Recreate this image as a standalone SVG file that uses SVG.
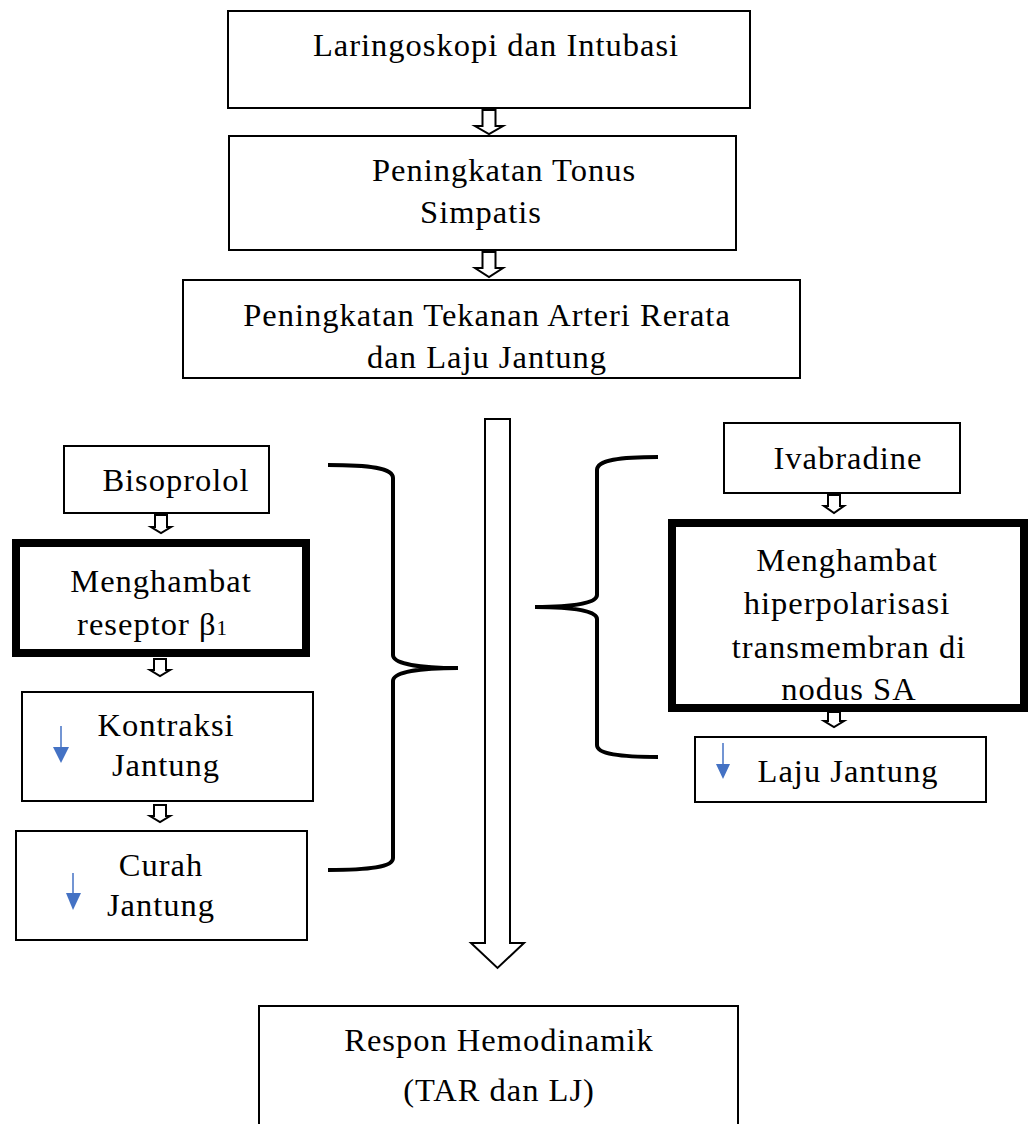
<svg xmlns="http://www.w3.org/2000/svg" width="1034" height="1124" viewBox="0 0 1034 1124">
<style>
.box{fill:#fff;stroke:#000;stroke-width:2}
.thick{fill:#fff;stroke:#000;stroke-width:8}
.t{font-family:"Liberation Serif","Times New Roman",serif;font-size:32.5px;letter-spacing:1px;fill:#000;text-anchor:middle}
.arr{fill:#fff;stroke:#000;stroke-width:2;stroke-linejoin:miter}
.brace{fill:none;stroke:#000;stroke-width:4}
.blue{stroke:#4472C4;stroke-width:1.5;fill:none}
.bluehead{fill:#4472C4}
</style>
<rect width="1034" height="1124" fill="#fff"/>
<g id="connectors">
<path class="arr" d="M482.5,110 L495.5,110 L495.5,126 L503,126 L489,134 L475,126 L482.5,126 Z"/>
<path class="arr" d="M482.5,252 L495.5,252 L495.5,268 L503,268 L489,277 L475,268 L482.5,268 Z"/>
<path class="arr" d="M155,515 L167,515 L167,527 L171,527 L161,533 L151,527 L155,527 Z"/>
<path class="arr" d="M154,659 L166,659 L166,670 L170,670 L160,676 L150,670 L154,670 Z"/>
<path class="arr" d="M154,805 L166,805 L166,816 L170,816 L160,822 L150,816 L154,816 Z"/>
<path class="arr" d="M828,495 L840,495 L840,506 L844,506 L834,513 L824,506 L828,506 Z"/>
<path class="arr" d="M828,712 L840,712 L840,721 L844,721 L834,727 L824,721 L828,721 Z"/>
<path class="arr" d="M485,419 L510,419 L510,943 L524,943 L497.5,968 L471,943 L485,943 Z"/>
<path class="brace" d="M328,465 C370,465 393,468 393,478 L393,655 C393,664 420,668 458,668 C420,668 393,672 393,681 L393,858 C393,867 370,870 328,870"/>
<path class="brace" d="M658,457 C620,457 597,460 597,470 L597,595 C597,603 575,607 535,607 C575,607 597,611 597,619 L597,745 C597,754 620,757 658,757"/>
</g>
<g id="n1"><rect class="box" x="228" y="11" width="522" height="97"/><text class="t" x="496" y="56">Laringoskopi dan Intubasi</text></g>
<g id="n2"><rect class="box" x="229" y="136" width="507" height="114"/><text class="t" x="504" y="181">Peningkatan Tonus</text><text class="t" x="481" y="223">Simpatis</text></g>
<g id="n3"><rect class="box" x="183" y="280" width="617" height="98"/><text class="t" x="487" y="326">Peningkatan Tekanan Arteri Rerata</text><text class="t" x="487" y="368">dan Laju Jantung</text></g>
<g id="bisoprolol"><rect class="box" x="64" y="446" width="205" height="67"/><text class="t" x="176" y="491">Bisoprolol</text></g>
<g id="menghambat-b1"><rect class="thick" x="16" y="543" width="290" height="110"/><text class="t" x="161" y="592">Menghambat</text><text class="t" x="152" y="635">reseptor β<tspan font-size="21" letter-spacing="0">1</tspan></text></g>
<g id="kontraksi"><rect class="box" x="22" y="692" width="291" height="109"/><text class="t" x="166" y="736">Kontraksi</text><text class="t" x="166" y="776">Jantung</text><line class="blue" x1="61" y1="726" x2="61" y2="750"/><path class="bluehead" d="M53,747 L69,747 L61,763 Z"/></g>
<g id="curah"><rect class="box" x="16" y="831" width="291" height="109"/><text class="t" x="161" y="876">Curah</text><text class="t" x="161" y="916">Jantung</text><line class="blue" x1="73" y1="873" x2="73" y2="895"/><path class="bluehead" d="M66,893 L81,893 L73,910 Z"/></g>
<g id="ivabradine"><rect class="box" x="724" y="423" width="236" height="70"/><text class="t" x="848" y="469">Ivabradine</text></g>
<g id="menghambat-sa"><rect class="thick" x="672" y="523" width="352" height="185"/><text class="t" x="847" y="571">Menghambat</text><text class="t" x="847" y="614">hiperpolarisasi</text><text class="t" x="849" y="658">transmembran di</text><text class="t" x="849" y="700">nodus SA</text></g>
<g id="laju"><rect class="box" x="695" y="737" width="291" height="65"/><text class="t" x="848" y="782">Laju Jantung</text><line class="blue" x1="723" y1="743" x2="723" y2="766"/><path class="bluehead" d="M716,764 L730,764 L723,779 Z"/></g>
<g id="respon"><rect class="box" x="259" y="1006" width="479" height="130"/><text class="t" x="499" y="1051">Respon Hemodinamik</text><text class="t" x="499" y="1101">(TAR dan LJ)</text></g>
</svg>
